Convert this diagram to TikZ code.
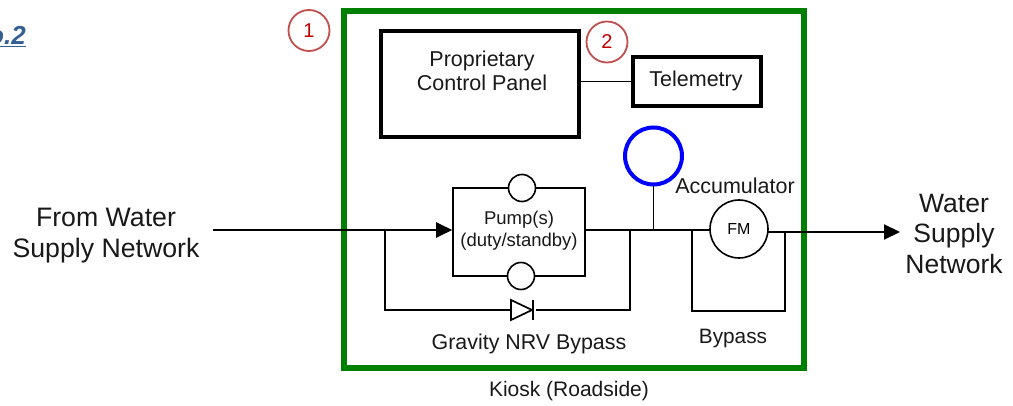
\documentclass[tikz,border=0pt]{standalone}
\usepackage{fontspec}
\setmainfont{Liberation Sans}
\usetikzlibrary{arrows.meta}
\definecolor{kioskgreen}{RGB}{0,128,0}
\definecolor{badge}{RGB}{192,80,77}
\definecolor{badgetext}{RGB}{192,0,0}
\definecolor{titleblue}{RGB}{54,95,145}
\tikzset{
  px/.style={x=1pt,y=-1pt},
  lbl/.style={inner sep=0pt,align=center,text=black!90},
  thickbox/.style={draw=black,line width=4pt,fill=white,minimum width=0pt},
  wire/.style={draw=black,line width=1.7pt},
  flow/.style={draw=black,line width=2.2pt},
  badgec/.style={circle,draw=badge,line width=1.8pt,minimum size=41pt,inner sep=0pt,text=badgetext,font=\fontsize{20}{20}\selectfont},
  smallc/.style={circle,draw=black,line width=1.6pt,fill=white,minimum size=27pt,inner sep=0pt},
  tip/.style={-{Triangle[length=16pt,width=15pt]}}
}
\begin{document}
\begin{tikzpicture}[px]
\useasboundingbox (0,0) rectangle (1013,406);
\clip (0,0) rectangle (1013,406);
\fill[white] (0,0) rectangle (1013,406);
% kiosk
\node[draw=kioskgreen,line width=6pt,minimum width=460pt,minimum height=356.5pt,inner sep=0pt,outer sep=0pt] (kiosk) at (574,189.25) {};
\node[lbl,font=\fontsize{21}{21}\selectfont] (kiosklbl) at (569,391) {Kiosk (Roadside)};
% title fragment
\node[anchor=base east,inner sep=0pt,text=titleblue,font=\fontsize{26}{26}\selectfont\bfseries\itshape] (title) at (26,44.5) {\underline{o.2}};
% badges
\node[badgec] (b1) at (309,30.5) {1};
% boxes
\node[thickbox,minimum width=198pt,minimum height=106pt,inner sep=0pt] (panel) at (480,84) {};
\node[lbl,font=\fontsize{21.5}{24}\selectfont] (panellbl) at (482,71) {Proprietary\\Control Panel};
\node[badgec] (b2) at (607,42) {2};
\node[thickbox,minimum width=128pt,minimum height=49pt,inner sep=0pt] (tele) at (697,81.5) {};
\node[lbl,font=\fontsize{21.5}{21.5}\selectfont] (telelbl) at (696,81) {Telemetry};
\draw[wire] (panel.east |- tele.west) -- (tele.west);
% pump
\node[draw=black,line width=1.6pt,minimum width=132pt,minimum height=88pt,inner sep=0pt] (pump) at (519,232) {};
\node[lbl,font=\fontsize{18.5}{22}\selectfont] (pumplbl) at (519,231) {Pump(s)\\(duty/standby)};
\node[smallc] (p1) at (522,188) {};
\node[smallc] (p2) at (521,276) {};
% junctions
\coordinate (inlet) at (213,230);
\coordinate (jl) at (385,230);
\coordinate (jr) at (630,230);
\coordinate (jb) at (692,230);
\coordinate (gb) at (785,311);
\coordinate (jc) at (785,232);
\coordinate (outlet) at (900,232);
\coordinate (fmin) at (739,230);
\coordinate (dl) at (511,310);
\coordinate (dr) at (536,310);
% fm and accumulator
\node[circle,draw=blue,line width=4pt,minimum size=57pt,inner sep=0pt] (acc) at (653.5,156) {};
% wires
\draw[flow,tip] (inlet) -- (pump.west |- inlet);
\draw[wire] (jl) |- (dl);
\draw[wire] (dr) -| (jr);
\draw[flow] (pump.east |- jr) -- (fmin);
\draw[wire] (acc.south) -- (acc.south |- jr);
\draw[wire] (jb) |- (gb) -- (jc);
\draw[flow,tip] (fmin |- outlet) -- (outlet);
\node[circle,draw=black,line width=1.6pt,fill=white,minimum size=58pt,inner sep=0pt,font=\fontsize{16}{16}\selectfont] (fm) at (739,229) {FM};
\node[lbl,font=\fontsize{21.5}{21.5}\selectfont] (acclbl) at (735,185.5) {Accumulator};
% diode
\draw[wire,fill=white,line join=miter] (511,300) -- (532,310) -- (511,320) -- cycle;
\draw[wire] (533,300) -- (533,320);
% labels
\node[lbl,font=\fontsize{21.4}{21.4}\selectfont] (gnrv) at (529,344) {Gravity NRV Bypass};
\node[lbl,font=\fontsize{20.8}{20.8}\selectfont] (bypass) at (733,338.5) {Bypass};
\node[lbl,font=\fontsize{26.7}{31}\selectfont] (from) at (106,235.5) {From Water\\Supply Network};
\node[lbl,font=\fontsize{26.5}{30.5}\selectfont] (to) at (954,234) {Water\\Supply\\Network};
\end{tikzpicture}
\end{document}
